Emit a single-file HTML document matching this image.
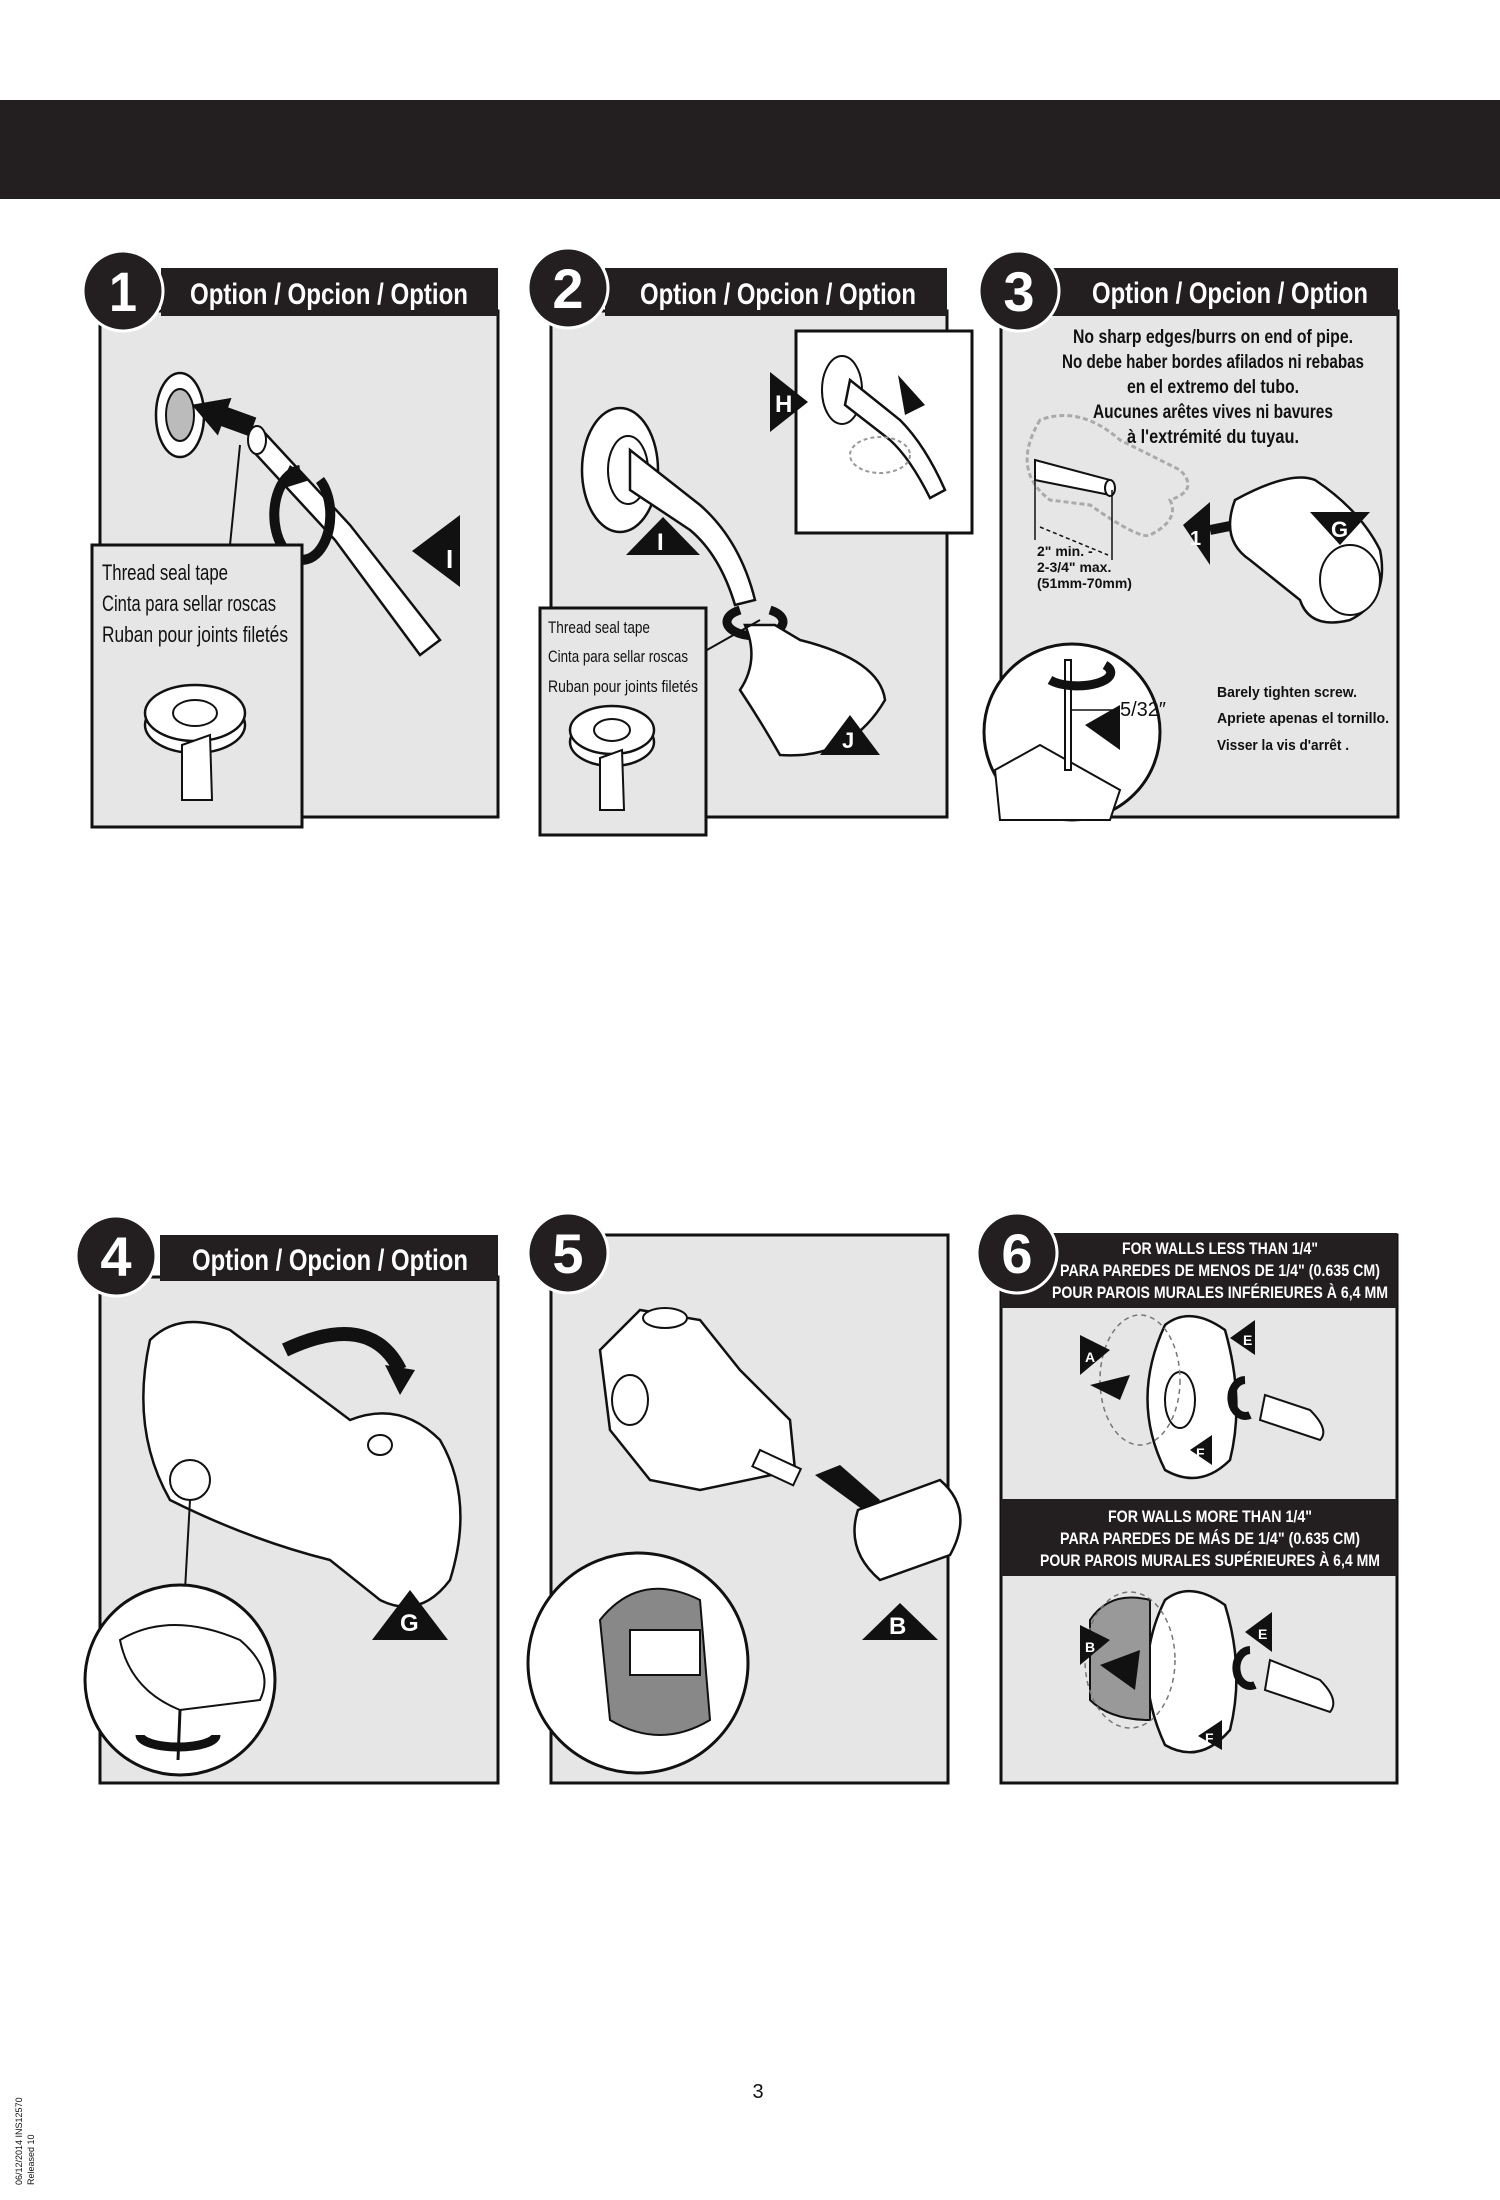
<!DOCTYPE html>
<html><head><meta charset="utf-8"><style>
html,body{margin:0;padding:0;background:#fff}
svg{display:block}
text{font-family:"Liberation Sans",sans-serif}
.h{font-weight:bold;fill:#fff;font-size:30px}
.b{font-weight:bold;fill:#111}
.n{fill:#111}
.w{fill:#fff;font-weight:bold}
</style></head><body>
<svg width="1500" height="2200" viewBox="0 0 1500 2200" xmlns="http://www.w3.org/2000/svg">
<rect x="0" y="100" width="1500" height="99" fill="#231f20"/>

<!-- PANEL 1 -->
<rect x="100" y="311" width="398" height="506" fill="#e6e6e6" stroke="#111" stroke-width="3"/>
<rect x="161" y="268" width="337" height="48" fill="#231f20"/>
<text x="190" y="304" class="h" textLength="278" lengthAdjust="spacingAndGlyphs">Option / Opcion / Option</text>
<circle cx="123" cy="291" r="40" fill="#231f20" stroke="#fff" stroke-width="3"/>
<text x="123" y="311" text-anchor="middle" class="w" font-size="56" textLength="28" lengthAdjust="spacingAndGlyphs">1</text>
<ellipse cx="180" cy="415" rx="24" ry="42" fill="#fff" stroke="#111" stroke-width="2.5"/>
<ellipse cx="180" cy="415" rx="14" ry="26" fill="#bbb" stroke="#111" stroke-width="2"/>
<polygon points="190,415 225,395 225,405 255,405 255,425 225,425 225,435" fill="#111" transform="rotate(20 220 415)"/>
<path d="M262,430 L350,525 L440,640 L420,655 L335,540 L252,450 Z" fill="#fff" stroke="#111" stroke-width="2.5"/>
<ellipse cx="257" cy="440" rx="9" ry="14" fill="#fff" stroke="#111" stroke-width="2"/>
<path d="M300,470 a28,45 0 1,0 20,10" fill="none" stroke="#111" stroke-width="10"/>
<polygon points="290,465 310,480 278,490" fill="#111"/>
<polygon points="460,515 460,587 412,551" fill="#111"/>
<text x="446" y="568" class="w" font-size="26">I</text>
<line x1="240" y1="445" x2="230" y2="545" stroke="#111" stroke-width="2"/>
<rect x="92" y="545" width="210" height="282" fill="#e6e6e6" stroke="#111" stroke-width="3"/>
<text x="102" y="580" class="n" font-size="22" textLength="126" lengthAdjust="spacingAndGlyphs">Thread seal tape</text>
<text x="102" y="611" class="n" font-size="22" textLength="174" lengthAdjust="spacingAndGlyphs">Cinta para sellar roscas</text>
<text x="102" y="642" class="n" font-size="22" textLength="186" lengthAdjust="spacingAndGlyphs">Ruban pour joints filetés</text>
<ellipse cx="195" cy="725" rx="50" ry="28" fill="#fff" stroke="#111" stroke-width="2.5"/>
<ellipse cx="195" cy="713" rx="50" ry="28" fill="#fff" stroke="#111" stroke-width="2.5"/>
<ellipse cx="195" cy="713" rx="22" ry="13" fill="#fff" stroke="#111" stroke-width="2"/>
<path d="M182,745 L210,735 L212,800 L182,800 Z" fill="#fff" stroke="#111" stroke-width="2"/>

<!-- PANEL 2 -->
<rect x="551" y="311" width="396" height="506" fill="#e6e6e6" stroke="#111" stroke-width="3"/>
<rect x="605" y="268" width="342" height="48" fill="#231f20"/>
<text x="640" y="304" class="h" textLength="276" lengthAdjust="spacingAndGlyphs">Option / Opcion / Option</text>
<circle cx="568" cy="288" r="40" fill="#231f20" stroke="#fff" stroke-width="3"/>
<text x="568" y="308" text-anchor="middle" class="w" font-size="56">2</text>
<ellipse cx="620" cy="470" rx="38" ry="62" fill="#fff" stroke="#111" stroke-width="2.5"/>
<ellipse cx="628" cy="470" rx="20" ry="34" fill="#fff" stroke="#111" stroke-width="2"/>
<path d="M630,450 L700,505 Q740,540 755,600 L735,605 Q720,555 690,530 L630,490 Z" fill="#fff" stroke="#111" stroke-width="2.5"/>
<path d="M740,610 a28,14 0 1,0 30,0" fill="none" stroke="#111" stroke-width="9"/>
<path d="M745,625 L775,625 L800,640 Q880,660 885,700 Q850,760 780,755 Q760,720 740,690 Q760,660 745,625 Z" fill="#fff" stroke="#111" stroke-width="2.5"/>
<polygon points="663,517 700,555 626,555" fill="#111"/><text x="657" y="550" class="w" font-size="24">I</text>
<polygon points="850,715 880,755 820,755" fill="#111"/><text x="842" y="748" class="w" font-size="22">J</text>
<line x1="707" y1="650" x2="760" y2="620" stroke="#111" stroke-width="2"/>
<rect x="540" y="608" width="166" height="227" fill="#e6e6e6" stroke="#111" stroke-width="3"/>
<text x="548" y="633" class="n" font-size="17" textLength="102" lengthAdjust="spacingAndGlyphs">Thread seal tape</text>
<text x="548" y="662" class="n" font-size="17" textLength="140" lengthAdjust="spacingAndGlyphs">Cinta para sellar roscas</text>
<text x="548" y="692" class="n" font-size="17" textLength="150" lengthAdjust="spacingAndGlyphs">Ruban pour joints filetés</text>
<ellipse cx="612" cy="742" rx="42" ry="24" fill="#fff" stroke="#111" stroke-width="2.5"/>
<ellipse cx="612" cy="730" rx="42" ry="24" fill="#fff" stroke="#111" stroke-width="2.5"/>
<ellipse cx="612" cy="730" rx="18" ry="11" fill="#fff" stroke="#111" stroke-width="2"/>
<path d="M600,758 L622,750 L624,810 L600,810 Z" fill="#fff" stroke="#111" stroke-width="2"/>
<rect x="796" y="331" width="176" height="202" fill="#fff" stroke="#111" stroke-width="3"/>
<ellipse cx="842" cy="390" rx="20" ry="34" fill="#fff" stroke="#111" stroke-width="2"/>
<path d="M850,380 L900,420 Q925,445 945,490 L930,498 Q910,458 890,440 L845,405 Z" fill="#fff" stroke="#111" stroke-width="2.5"/>
<ellipse cx="880" cy="455" rx="30" ry="18" fill="none" stroke="#999" stroke-width="2" stroke-dasharray="4,3"/>
<polygon points="770,372 808,402 770,432" fill="#111"/><text x="775" y="412" class="w" font-size="24">H</text>
<polygon points="898,375 925,405 905,415" fill="#111"/>

<!-- PANEL 3 -->
<rect x="1001" y="311" width="397" height="506" fill="#e6e6e6" stroke="#111" stroke-width="3"/>
<rect x="1050" y="268" width="348" height="48" fill="#231f20"/>
<text x="1092" y="303" class="h" textLength="276" lengthAdjust="spacingAndGlyphs">Option / Opcion / Option</text>
<circle cx="1019" cy="291" r="40" fill="#231f20" stroke="#fff" stroke-width="3"/>
<text x="1019" y="311" text-anchor="middle" class="w" font-size="56">3</text>
<g class="b" font-size="19" text-anchor="middle">
<text x="1213" y="343" textLength="280" lengthAdjust="spacingAndGlyphs">No sharp edges/burrs on end of pipe.</text>
<text x="1213" y="368" textLength="302" lengthAdjust="spacingAndGlyphs">No debe haber bordes afilados ni rebabas</text>
<text x="1213" y="393" textLength="172" lengthAdjust="spacingAndGlyphs">en el extremo del tubo.</text>
<text x="1213" y="418" textLength="240" lengthAdjust="spacingAndGlyphs">Aucunes arêtes vives ni bavures</text>
<text x="1213" y="443" textLength="172" lengthAdjust="spacingAndGlyphs">à l'extrémité du tuyau.</text>
</g>
<path d="M1040,420 Q1010,470 1050,500 L1090,505 Q1140,540 1150,535 Q1180,520 1170,500 Q1200,490 1180,470 L1120,440 Q1080,405 1040,420 Z" fill="none" stroke="#aaa" stroke-width="3" stroke-dasharray="5,3"/>
<path d="M1035,460 L1110,480 L1110,495 L1035,480 Z" fill="#fff" stroke="#111" stroke-width="2"/>
<ellipse cx="1110" cy="488" rx="5" ry="8" fill="#fff" stroke="#111" stroke-width="2"/>
<line x1="1035" y1="480" x2="1035" y2="540" stroke="#111" stroke-width="1.5"/>
<line x1="1112" y1="490" x2="1112" y2="560" stroke="#111" stroke-width="1.5"/>
<line x1="1040" y1="527" x2="1108" y2="555" stroke="#111" stroke-width="1.5" stroke-dasharray="4,3"/>
<g class="b" font-size="14"><text x="1037" y="556">2" min. -</text><text x="1037" y="572">2-3/4" max.</text><text x="1037" y="588">(51mm-70mm)</text></g>
<polygon points="1183,525 1210,502 1210,565" fill="#111"/><text x="1190" y="545" class="w" font-size="20">1</text>
<line x1="1210" y1="530" x2="1235" y2="525" stroke="#111" stroke-width="10"/>
<path d="M1235,500 Q1290,470 1315,480 Q1360,510 1380,550 Q1390,600 1350,620 Q1310,630 1300,600 L1250,560 Q1220,540 1235,500 Z" fill="#fff" stroke="#111" stroke-width="2.5"/>
<ellipse cx="1350" cy="580" rx="30" ry="35" fill="#fff" stroke="#111" stroke-width="2"/>
<polygon points="1310,512 1370,512 1340,545" fill="#111"/><text x="1331" y="537" class="w" font-size="22">G</text>
<circle cx="1072" cy="732" r="88" fill="#fff" stroke="#111" stroke-width="3"/>
<path d="M995,770 L1040,745 L1120,790 L1110,820 L1000,820 Z" fill="#fff" stroke="#111" stroke-width="2"/>
<rect x="1065" y="660" width="6" height="110" fill="#fff" stroke="#111" stroke-width="2"/>
<path d="M1050,680 a30,12 0 1,0 55,-15" fill="none" stroke="#111" stroke-width="9"/>
<polygon points="1085,725 1120,705 1120,750" fill="#111"/><text x="1093" y="757" class="w" font-size="20">O</text>
<line x1="1070" y1="710" x2="1118" y2="710" stroke="#111" stroke-width="1.5"/>
<text x="1120" y="716" class="n" font-size="20">5/32″</text>
<g class="b" font-size="15"><text x="1217" y="697" textLength="140" lengthAdjust="spacingAndGlyphs">Barely tighten screw.</text><text x="1217" y="723" textLength="172" lengthAdjust="spacingAndGlyphs">Apriete apenas el tornillo.</text><text x="1217" y="750" textLength="132" lengthAdjust="spacingAndGlyphs">Visser la vis d'arrêt .</text></g>

<!-- PANEL 4 -->
<rect x="100" y="1277" width="398" height="506" fill="#e6e6e6" stroke="#111" stroke-width="3"/>
<rect x="160" y="1235" width="338" height="46" fill="#231f20"/>
<text x="192" y="1270" class="h" textLength="276" lengthAdjust="spacingAndGlyphs">Option / Opcion / Option</text>
<circle cx="116" cy="1256" r="40" fill="#231f20" stroke="#fff" stroke-width="3"/>
<text x="116" y="1276" text-anchor="middle" class="w" font-size="56">4</text>
<path d="M150,1340 Q180,1310 230,1330 L350,1420 Q400,1400 440,1440 Q475,1500 450,1580 Q420,1620 380,1600 L330,1560 Q250,1540 170,1500 Q130,1430 150,1340 Z" fill="#fff" stroke="#111" stroke-width="2.5"/>
<path d="M285,1350 Q370,1310 400,1370" fill="none" stroke="#111" stroke-width="14"/>
<polygon points="385,1365 415,1370 400,1395" fill="#111"/>
<ellipse cx="380" cy="1445" rx="12" ry="10" fill="#fff" stroke="#111" stroke-width="2"/>
<polygon points="410,1590 448,1640 372,1640" fill="#111"/><text x="400" y="1631" class="w" font-size="24">G</text>
<circle cx="190" cy="1480" r="20" fill="none" stroke="#111" stroke-width="2"/>
<line x1="190" y1="1500" x2="185" y2="1590" stroke="#111" stroke-width="2"/>
<circle cx="180" cy="1680" r="95" fill="#fff" stroke="#111" stroke-width="3"/>
<path d="M120,1640 Q170,1610 240,1640 Q275,1670 260,1700 L180,1710 Q130,1690 120,1640 Z" fill="#fff" stroke="#111" stroke-width="2"/>
<line x1="180" y1="1710" x2="178" y2="1760" stroke="#111" stroke-width="3"/>
<path d="M140,1735 a38,12 0 1,0 76,0" fill="none" stroke="#111" stroke-width="9"/>

<!-- PANEL 5 -->
<rect x="551" y="1235" width="397" height="548" fill="#e6e6e6" stroke="#111" stroke-width="3"/>
<circle cx="568" cy="1253" r="40" fill="#231f20" stroke="#fff" stroke-width="3"/>
<text x="568" y="1273" text-anchor="middle" class="w" font-size="56">5</text>
<path d="M600,1350 L640,1310 L700,1320 L740,1370 L790,1420 L795,1470 L700,1490 L650,1480 L610,1430 Z" fill="#fff" stroke="#111" stroke-width="2.5"/>
<ellipse cx="665" cy="1318" rx="22" ry="10" fill="#fff" stroke="#111" stroke-width="2"/>
<ellipse cx="630" cy="1400" rx="18" ry="25" fill="#fff" stroke="#111" stroke-width="2"/>
<rect x="760" y="1450" width="45" height="18" fill="#fff" stroke="#111" stroke-width="2" transform="rotate(25 760 1450)"/>
<polygon points="815,1475 840,1465 880,1500 870,1515" fill="#111"/>
<path d="M858,1510 L940,1480 Q975,1510 950,1555 L880,1580 Q845,1550 858,1510 Z" fill="#fff" stroke="#111" stroke-width="2.5"/>
<polygon points="900,1603 938,1640 862,1640" fill="#111"/><text x="889" y="1634" class="w" font-size="24">B</text>
<circle cx="638" cy="1663" r="110" fill="#fff" stroke="#111" stroke-width="3"/>
<path d="M600,1620 Q640,1570 700,1600 L710,1720 Q660,1750 610,1720 Z" fill="#888" stroke="#111" stroke-width="2"/>
<rect x="630" y="1630" width="70" height="45" fill="#fff" stroke="#111" stroke-width="2"/>

<!-- PANEL 6 -->
<rect x="1001" y="1235" width="396" height="548" fill="#e6e6e6" stroke="#111" stroke-width="3"/>
<rect x="1001" y="1233" width="396" height="75" fill="#231f20"/>
<rect x="1001" y="1499" width="396" height="77" fill="#231f20"/>
<g class="w" font-size="17" text-anchor="middle">
<text x="1220" y="1254" textLength="196" lengthAdjust="spacingAndGlyphs">FOR WALLS LESS THAN 1/4"</text>
<text x="1220" y="1276" textLength="320" lengthAdjust="spacingAndGlyphs">PARA PAREDES DE MENOS DE 1/4" (0.635 CM)</text>
<text x="1220" y="1298" textLength="336" lengthAdjust="spacingAndGlyphs">POUR PAROIS MURALES INFÉRIEURES À 6,4 MM</text>
<text x="1210" y="1522" textLength="204" lengthAdjust="spacingAndGlyphs">FOR WALLS MORE THAN 1/4"</text>
<text x="1210" y="1544" textLength="300" lengthAdjust="spacingAndGlyphs">PARA PAREDES DE MÁS DE 1/4" (0.635 CM)</text>
<text x="1210" y="1566" textLength="340" lengthAdjust="spacingAndGlyphs">POUR PAROIS MURALES SUPÉRIEURES À 6,4 MM</text>
</g>
<circle cx="1017" cy="1253" r="40" fill="#231f20" stroke="#fff" stroke-width="3"/>
<text x="1017" y="1273" text-anchor="middle" class="w" font-size="56">6</text>
<path d="M1165,1325 Q1190,1305 1225,1330 Q1245,1400 1230,1460 Q1200,1490 1165,1470 Q1130,1400 1165,1325 Z" fill="#fff" stroke="#111" stroke-width="2.5"/>
<ellipse cx="1180" cy="1400" rx="15" ry="28" fill="#fff" stroke="#111" stroke-width="2"/>
<ellipse cx="1140" cy="1380" rx="40" ry="65" fill="none" stroke="#777" stroke-width="1.5" stroke-dasharray="5,4"/>
<polygon points="1080,1335 1110,1350 1080,1375" fill="#111"/><text x="1085" y="1362" class="w" font-size="14">A</text>
<polygon points="1090,1385 1130,1375 1120,1400" fill="#111"/>
<polygon points="1255,1320 1255,1355 1230,1338" fill="#111"/><text x="1243" y="1345" class="w" font-size="14">E</text>
<polygon points="1190,1450 1212,1435 1212,1465" fill="#111"/><text x="1196" y="1458" class="w" font-size="14">F</text>
<path d="M1265,1395 L1310,1410 Q1330,1430 1320,1440 L1260,1420 Z" fill="#fff" stroke="#111" stroke-width="2"/>
<path d="M1245,1380 a14,18 0 1,0 5,35" fill="none" stroke="#111" stroke-width="8"/>
<path d="M1165,1600 Q1190,1580 1225,1605 Q1245,1670 1230,1730 Q1200,1765 1165,1745 Q1130,1670 1165,1600 Z" fill="#fff" stroke="#111" stroke-width="2.5"/>
<path d="M1090,1620 Q1110,1590 1150,1600 L1150,1720 Q1110,1720 1090,1700 Z" fill="#999" stroke="#111" stroke-width="2"/>
<ellipse cx="1130" cy="1660" rx="45" ry="68" fill="none" stroke="#777" stroke-width="1.5" stroke-dasharray="5,4"/>
<polygon points="1080,1625 1110,1640 1080,1665" fill="#111"/><text x="1085" y="1652" class="w" font-size="14">B</text>
<polygon points="1100,1665 1140,1650 1135,1690" fill="#111"/>
<polygon points="1272,1612 1272,1652 1245,1632" fill="#111"/><text x="1258" y="1639" class="w" font-size="14">E</text>
<polygon points="1198,1736 1222,1720 1222,1750" fill="#111"/><text x="1205" y="1743" class="w" font-size="14">F</text>
<path d="M1270,1660 L1320,1680 Q1340,1700 1330,1712 L1265,1690 Z" fill="#fff" stroke="#111" stroke-width="2"/>
<path d="M1250,1650 a14,18 0 1,0 5,35" fill="none" stroke="#111" stroke-width="8"/>

<text x="758" y="2098" text-anchor="middle" class="n" font-size="20">3</text>
<text transform="translate(22,2185) rotate(-90)" class="n" font-size="9">06/12/2014  INS12570</text>
<text transform="translate(34,2185) rotate(-90)" class="n" font-size="9">Released 10</text>
</svg>
</body></html>
